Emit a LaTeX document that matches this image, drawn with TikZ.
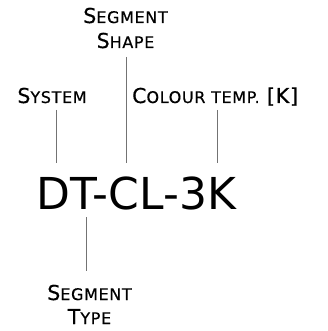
\documentclass[tikz,border=0pt]{standalone}
\usepackage{fontspec}
\setmainfont{DejaVu Sans}
\newfontfamily\lblfont{DejaVu Sans}[LetterSpace=4,FakeBold=0.6]
\usetikzlibrary{positioning}
\newcommand{\smc}[1]{{\fontsize{16}{18}\selectfont #1}}

\begin{document}
\begin{tikzpicture}[x=1pt,y=-1pt,
    lbl/.style={inner sep=0pt,anchor=base,font=\lblfont\fontsize{20.5}{25}\selectfont},
    lead/.style={draw=black!55,line width=0.8pt}]
        \useasboundingbox (0,0) rectangle (327,331);

        % labels
        \node[lbl]  (shapeA)                   at (125.5,23)  {S\smc{EGMENT}};
        \node[lbl]  (shapeB)                   at (125.5,48)  {S\smc{HAPE}};
        \node[lbl]  (system)                   at (52,103)    {S\smc{YSTEM}};
        \node[lbl,anchor=base west] (colour)   at (132,103)   {C\smc{OLOUR TEMP.} [K]};
        \node[lbl]  (typeA)                    at (89.5,300)  {S\smc{EGMENT}};
        \node[lbl]  (typeB)                    at (89.5,324)  {T\smc{YPE}};

        % code
        \node[inner sep=0pt,anchor=base west,font=\fontsize{44}{50}\selectfont]
                    (code)                     at (36,209)    {DT-CL-3K};

        % leader ends
        \coordinate (sysT) at (56,110);   \coordinate (sysB) at (56,163);
        \coordinate (shpT) at (126,57);   \coordinate (shpB) at (126,163);
        \coordinate (colT) at (217,110);  \coordinate (colB) at (217,163);
        \coordinate (typT) at (86,217);   \coordinate (typB) at (86,271);

        \path[lead] (sysT) edge (sysB)
                    (shpT) edge (shpB)
                    (colT) edge (colB)
                    (typT) edge (typB);
      \end{tikzpicture}
\end{document}
